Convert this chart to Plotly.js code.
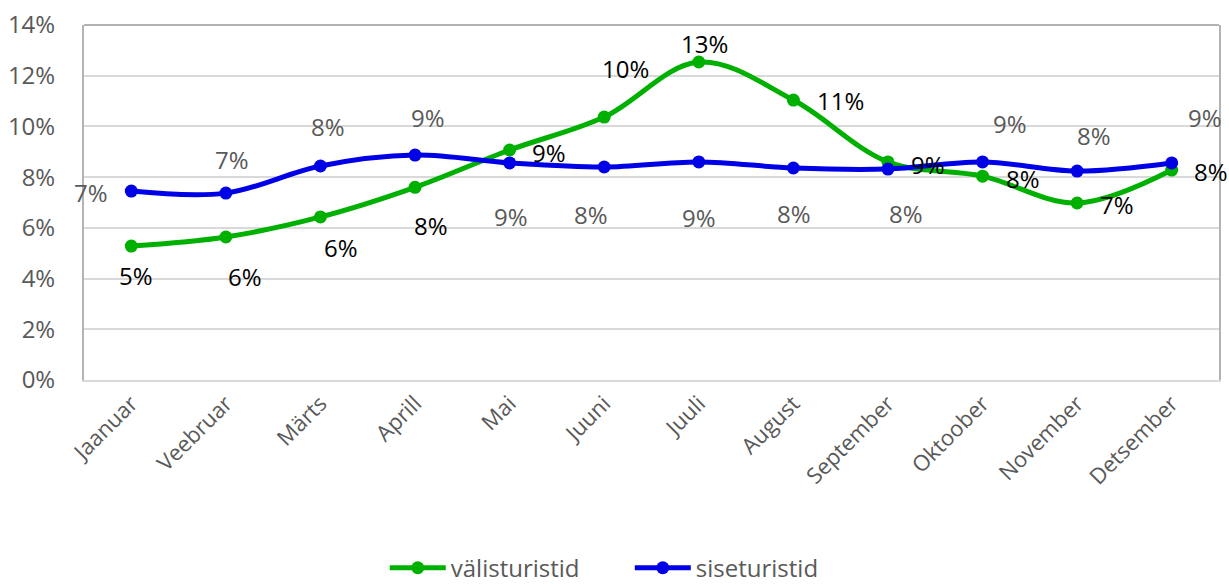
<!DOCTYPE html>
<html>
<head>
<meta charset="utf-8">
<script src="https://cdn.plot.ly/plotly-3.0.1.min.js"></script>
<style>html,body{margin:0;padding:0;background:#fff;}#chart{width:1229px;height:584px;}</style>
</head>
<body>
<div id="chart"></div>
<script>
const months = ['Jaanuar','Veebruar','Märts','Aprill','Mai','Juuni','Juuli','August','September','Oktoober','November','Detsember'];
const valisturistid = [0.0528,0.0564,0.0643,0.0760,0.0907,0.1037,0.1254,0.1104,0.0860,0.0804,0.0698,0.0828];
const siseturistid = [0.0745,0.0737,0.0844,0.0887,0.0856,0.0840,0.0860,0.0836,0.0832,0.0860,0.0824,0.0856];
const yTicks = [0,0.02,0.04,0.06,0.08,0.10,0.12,0.14];

// label offsets in pixels (styling only): [dx, dy] with dy downward
const greenOffsets = [[5,29],[19,40],[21,31],[16,38],[39,2],[21,-49],[6,-19],[47,0],[40,3],[40,2],[40,1],[39,1]];
const blueOffsets = [[-40,1],[6,-34],[8,-39],[13,-38],[1,54],[-13,47],[0,56],[1,45],[18,44],[27,-38],[17,-36],[33,-45]];

const FONT = 'Open Sans, Noto Sans, sans-serif';
const GREEN = '#00B000';
const BLUE = '#0000E6';
const FS = 24;

const traces = [
  {x: months, y: valisturistid, name: 'välisturistid', type: 'scatter', mode: 'lines+markers',
   line: {color: GREEN, width: 5, shape: 'spline', smoothing: 1}, marker: {color: GREEN, size: 13}},
  {x: months, y: siseturistid, name: 'siseturistid', type: 'scatter', mode: 'lines+markers',
   line: {color: BLUE, width: 5, shape: 'spline', smoothing: 1}, marker: {color: BLUE, size: 13}}
];

const annotations = [];
function addLabels(vals, offs, color) {
  vals.forEach((v, i) => {
    annotations.push({x: months[i], y: v, xref: 'x', yref: 'y', text: Math.round(v*100) + '%',
      showarrow: false, xanchor: 'center', yanchor: 'middle',
      xshift: offs[i][0], yshift: -offs[i][1], font: {family: FONT, size: FS, color: color}});
  });
}
addLabels(valisturistid, greenOffsets, '#000000');
addLabels(siseturistid, blueOffsets, '#595959');

const layout = {
  width: 1229, height: 584,
  margin: {l: 84, r: 10, t: 25, b: 204, autoexpand: false},
  paper_bgcolor: '#fff', plot_bgcolor: '#fff',
  font: {family: FONT, size: FS, color: '#595959'},
  showlegend: true,
  legend: {orientation: 'h', x: 0.265, xanchor: 'left', y: -0.53, yanchor: 'middle',
           font: {family: FONT, size: FS, color: '#595959'}, traceorder: 'normal', itemwidth: 56,
           entrywidth: 174, entrywidthmode: 'pixels'},
  xaxis: {type: 'category', range: [-0.5, 11.5], tickangle: -45, showgrid: false, showline: true, linecolor: '#d9d9d9', linewidth: 2,
          ticks: '', ticklabelstandoff: 0, automargin: false, tickfont: {family: FONT, size: 22, color: '#595959'}, fixedrange: true},
  yaxis: {range: [0, 0.14], tickvals: yTicks, tickformat: '.0%', showgrid: true, gridcolor: '#d9d9d9', gridwidth: 2,
          showline: true, linecolor: '#b3b3b3', linewidth: 2, mirror: true, zeroline: false, ticks: '', automargin: false,
          ticklabelstandoff: 22, tickfont: {family: FONT, size: FS, color: '#595959'}, fixedrange: true},
  shapes: [{type: 'line', xref: 'paper', yref: 'paper', x0: 0, x1: 1, y0: 1, y1: 1, line: {color: '#b3b3b3', width: 2}}],
  annotations: annotations
};

Plotly.newPlot('chart', traces, layout, {displayModeBar: false, staticPlot: true});
</script>
</body>
</html>
